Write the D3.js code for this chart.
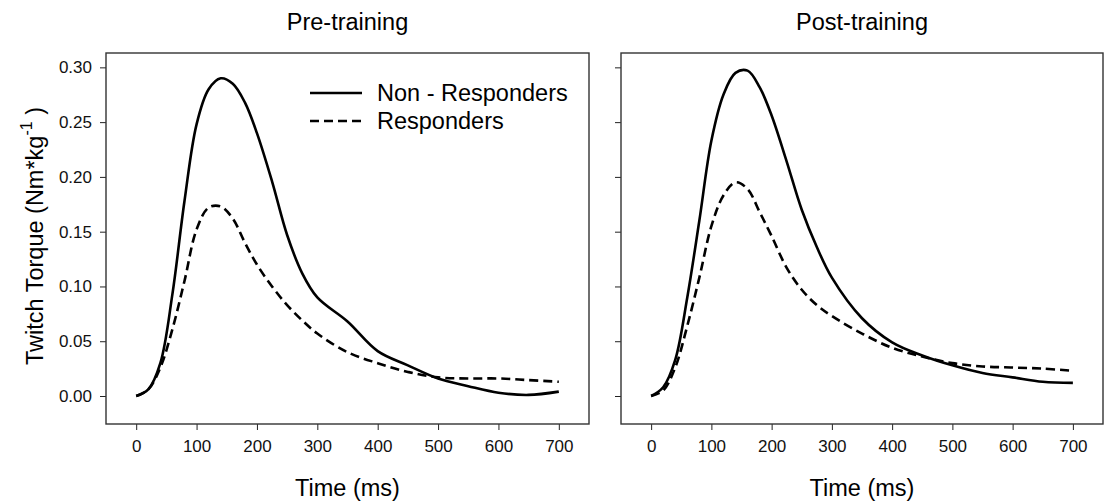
<!DOCTYPE html>
<html>
<head>
<meta charset="utf-8" />
<title>twitch torque</title>
<script src="https://d3js.org/d3.v7.min.js"></script>
<style>
    body { margin: 0; background: #fff; }
    svg { font-family: "Liberation Sans", Arial, sans-serif; }
    .line { fill: none; stroke: #000; stroke-width: 2.6px; }
    .dash { stroke-dasharray: 9, 5; }
    .axis text { font-size: 17px; fill: #111; }
    .axis path { display: none; }
    .axis line { stroke: #222; stroke-width: 1px; }
</style>
</head>
<body>
<svg width="1105" height="504"></svg>
<script>
    // time points (ms)
    var times = [0, 20, 40, 60, 80, 100, 120, 140, 160, 180, 200, 225, 250, 275, 300, 350, 400, 450, 500, 550, 600, 650, 700];

    // pre-training
    var preNon = [0, 0.006, 0.030, 0.093, 0.178, 0.248, 0.280, 0.290, 0.285, 0.268, 0.240, 0.196, 0.147, 0.112, 0.090, 0.068, 0.041, 0.028, 0.016, 0.009, 0.003, 0.001, 0.004];
    var preResp = [0, 0.006, 0.026, 0.061, 0.105, 0.152, 0.172, 0.173, 0.162, 0.140, 0.120, 0.100, 0.083, 0.069, 0.057, 0.040, 0.030, 0.022, 0.017, 0.016, 0.016, 0.0145, 0.013];

    // post-training
    var postNon = [0, 0.008, 0.033, 0.090, 0.160, 0.233, 0.275, 0.295, 0.297, 0.282, 0.256, 0.214, 0.170, 0.136, 0.108, 0.071, 0.049, 0.037, 0.028, 0.021, 0.017, 0.013, 0.012];
    var postResp = [0, 0.005, 0.026, 0.064, 0.108, 0.155, 0.183, 0.195, 0.189, 0.168, 0.146, 0.117, 0.097, 0.083, 0.073, 0.057, 0.044, 0.036, 0.030, 0.027, 0.026, 0.025, 0.023];

    var xTicks = [0, 100, 200, 300, 400, 500, 600, 700];
    var yTicks = [0, 0.05, 0.10, 0.15, 0.20, 0.25, 0.30];
    var legendLabels = ['Non - Responders', 'Responders'];

    var svg = d3.select('svg');
    var h = 371;

    function drawPanel(left, w, title, non, resp, showY, showLegend) {
        var g = svg.append('g').attr('transform', 'translate(' + left + ',53)');
        var x = d3.scaleLinear().domain([-50, 750]).range([0, w]);
        var y = d3.scaleLinear().domain([-0.02555, 0.3131]).range([h, 0]);

        g.append('g').attr('class', 'axis')
            .attr('transform', 'translate(0,' + h + ')')
            .call(d3.axisBottom(x).tickValues(xTicks).tickSize(6).tickPadding(10));

        g.append('g').attr('class', 'axis')
            .call(d3.axisLeft(y).tickValues(yTicks).tickSize(6).tickPadding(8)
                .tickFormat(showY ? d3.format('.2f') : ''));

        g.append('rect')
            .attr('width', w).attr('height', h)
            .attr('fill', 'none').attr('stroke', '#333').attr('stroke-width', 1.4);

        var line = d3.line()
            .x(function(d) { return x(d[0]); })
            .y(function(d) { return y(d[1]); })
            .curve(d3.curveCatmullRom.alpha(0.5));

        g.append('path').attr('class', 'line')
            .attr('d', line(d3.zip(times, non)));
        g.append('path').attr('class', 'line dash')
            .attr('d', line(d3.zip(times, resp)));

        svg.append('text')
            .attr('x', left + w / 2).attr('y', 30)
            .attr('text-anchor', 'middle')
            .style('font-size', '23.5px')
            .text(title);

        svg.append('text')
            .attr('x', left + w / 2).attr('y', 496)
            .attr('text-anchor', 'middle')
            .style('font-size', '23.5px')
            .text('Time (ms)');

        if (showLegend) {
            var lg = g.selectAll('.leg')
                .data(legendLabels)
                .enter()
                .append('g')
                .attr('transform', function(d, i) { return 'translate(204,' + (40 + i * 28) + ')'; });
            lg.append('line')
                .attr('class', function(d, i) { return i ? 'line dash' : 'line'; })
                .attr('x1', 0).attr('x2', 52);
            lg.append('text')
                .attr('x', 67).attr('y', 8)
                .style('font-size', '23.5px')
                .text(function(d) { return d; });
        }
    }

    drawPanel(106, 483, 'Pre-training', preNon, preResp, true, true);
    drawPanel(621, 482, 'Post-training', postNon, postResp, false, false);

    // y axis title with superscript
    var yl = svg.append('text')
        .attr('transform', 'translate(43,236) rotate(-90)')
        .attr('text-anchor', 'middle')
        .style('font-size', '23.5px');
    yl.append('tspan').text('Twitch Torque (Nm*kg');
    yl.append('tspan').attr('dy', -11).style('font-size', '16px').text('-1');
    yl.append('tspan').attr('dy', 11).text(' )');
</script>
</body>
</html>
